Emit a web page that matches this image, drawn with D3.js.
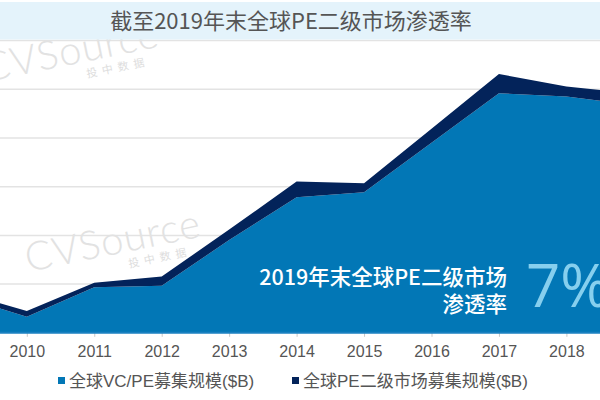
<!DOCTYPE html>
<html>
<head>
<meta charset="utf-8">
<script src="https://cdn.jsdelivr.net/npm/d3@7"></script>
<style>
  html, body { margin: 0; padding: 0; background: #ffffff; }
  svg { display: block; }
</style>
</head>
<body>
<svg id="chart" width="600" height="400"></svg>
<script>
// ---- Data ----
const years = [2009, 2010, 2011, 2012, 2013, 2014, 2015, 2016, 2017, 2018, 2019];
const vcpeFundraising = [150, 66, 187, 193, 381, 557, 577, 780, 984, 970, 936];      // 全球VC/PE募集规模($B)
const secondaryFundraising = [20, 24, 19, 38, 43, 64, 37, 58, 79, 41, 47];          // 全球PE二级市场募集规模($B)
const tickYears = [2010, 2011, 2012, 2013, 2014, 2015, 2016, 2017, 2018];
const gridValues = [200, 400, 600, 800, 1000, 1200];
const seriesNames = ["全球VC/PE募集规模($B)", "全球PE二级市场募集规模($B)"];
const titleText = "截至2019年末全球PE二级市场渗透率";
const calloutLines = ["2019年末全球PE二级市场", "渗透率"];
const calloutValue = "7%";

const colors = ["#0277b6", "#03235a"];

const svg = d3.select("#chart");
const W = 600, H = 400;

const x = d3.scaleLinear().domain([2010, 2018]).range([26.8, 566.4]);
const y = d3.scaleLinear().domain([0, 1200]).range([332.8, 40.6]);

const table = years.map((yr, i) => ({ year: yr, a: vcpeFundraising[i], b: secondaryFundraising[i] }));
const stacked = d3.stack().keys(["a", "b"])(table);

// watermark
function watermark(g, tx, ty) {
  const w = g.append("g").attr("transform", `translate(${tx},${ty}) rotate(-11.5)`);
  w.append("text").attr("x", 0).attr("y", 0)
    .attr("font-family", "Lato, 'Open Sans', sans-serif").attr("font-weight", 300)
    .attr("font-size", 40).attr("letter-spacing", 1)
    .attr("fill", "#e2e2e2")
    .text("CVSource");
  w.append("text").attr("x", 100).attr("y", 16)
    .attr("font-family", "'Noto Sans CJK SC', sans-serif")
    .attr("font-size", 11).attr("letter-spacing", 5)
    .attr("fill", "#dddddd")
    .text("投中数据");
}

// gridlines
svg.append("g").selectAll("line").data(gridValues).join("line")
  .attr("x1", 0).attr("x2", W)
  .attr("y1", d => y(d)).attr("y2", d => y(d))
  .attr("stroke", "#e3e3e3").attr("stroke-width", 1.5);

const wm = svg.append("g");
watermark(wm, -14, 82);
watermark(wm, 28, 272);

// areas
const area = d3.area()
  .x(d => x(d.data.year))
  .y0(d => y(d[0]))
  .y1(d => y(d[1]));

svg.append("g").selectAll("path").data(stacked).join("path")
  .attr("d", area)
  .attr("fill", (d, i) => colors[i]);

// x axis
const axis = d3.axisBottom(x).tickValues(tickYears).tickFormat(d3.format("d")).tickSize(4).tickPadding(9);
const ax = svg.append("g").attr("transform", `translate(0,${y(0)})`).call(axis);
ax.select(".domain").remove();
ax.append("line").attr("x1", 0).attr("x2", W).attr("y1", 0).attr("y2", 0)
  .attr("stroke", "#1a80c0").attr("stroke-width", 2);
ax.selectAll(".tick line").attr("stroke", "#c8c8c8").attr("stroke-width", 1);
ax.selectAll(".tick text")
  .attr("font-family", "'Liberation Sans', Arial, sans-serif")
  .attr("font-size", 16).attr("fill", "#555555");

// title band
svg.append("rect").attr("x", 0).attr("y", 2).attr("width", W).attr("height", 37.5).attr("fill", "#e4f3fb");
svg.append("text").attr("x", 291).attr("y", 29)
  .attr("text-anchor", "middle")
  .attr("font-family", "'Noto Sans CJK SC', sans-serif")
  .attr("font-size", 22).attr("fill", "#555555")
  .text(titleText);

// callout
svg.append("g").selectAll("text").data(calloutLines).join("text")
  .attr("x", 507).attr("y", (d, i) => 285 + i * 27)
  .attr("text-anchor", "end")
  .attr("font-family", "'Noto Sans CJK SC', sans-serif")
  .attr("font-weight", 500)
  .attr("font-size", 21.5).attr("fill", "#ffffff")
  .text(d => d);
svg.append("text").attr("x", 526).attr("y", 307)
  .attr("font-family", "'Open Sans', Lato, sans-serif").attr("font-weight", 400)
  .attr("font-size", 60).attr("fill", "#86cfee")
  .text(calloutValue);

// legend
const legendX = [58, 292];
const lg = svg.append("g").selectAll("g").data(seriesNames).join("g")
  .attr("transform", (d, i) => `translate(${legendX[i]},377)`);
lg.append("rect").attr("width", 7).attr("height", 7).attr("fill", (d, i) => colors[i]);
lg.append("text").attr("x", 11).attr("y", 10)
  .attr("font-family", "'Liberation Sans', Arial, 'Noto Sans CJK SC', sans-serif")
  .attr("font-size", 17).attr("fill", "#555555")
  .text(d => d);
</script>
</body>
</html>
